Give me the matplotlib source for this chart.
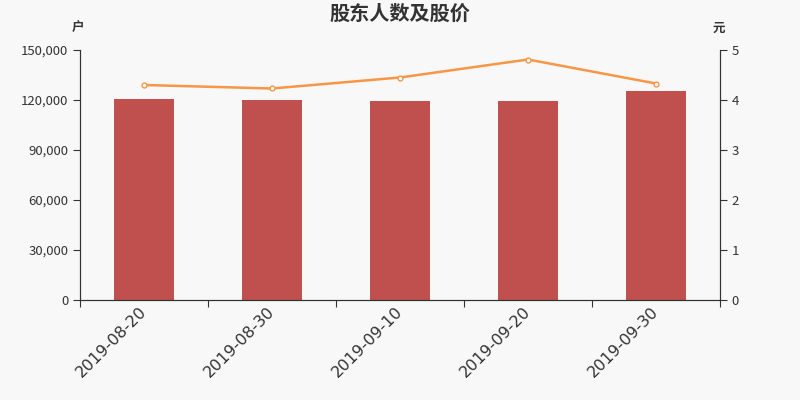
import numpy as np
import matplotlib.pyplot as plt

plt.rcParams['font.family'] = ['Noto Sans CJK SC', 'DejaVu Sans']

# 数据
datas = ["2019-08-20", "2019-08-30", "2019-09-10", "2019-09-20", "2019-09-30"]
acionistas = [120600, 120000, 119400, 119500, 125400]
precos = [4.30, 4.23, 4.45, 4.81, 4.33]

fundo = "#f8f8f8"
cor_barra = "#c0504d"
cor_linha = "#f79646"
cor_texto = "#333333"

fig = plt.figure(figsize=(8, 4), dpi=100, facecolor=fundo)
ax = fig.add_axes([0.1, 0.25, 0.8, 0.625], facecolor=fundo)

x = np.arange(len(datas))
ax.bar(x, acionistas, width=0.47, color=cor_barra, zorder=2)
ax.set_xlim(-0.5, len(datas) - 0.5)
ax.set_ylim(0, 150000)
ax.set_yticks(np.arange(0, 150001, 30000))
ax.set_yticklabels([f"{v:,}" for v in range(0, 150001, 30000)])
ax.set_xticks(np.arange(-0.5, len(datas), 1), minor=False)
ax.set_xticklabels([])
ax.set_xticks(x - 0.04, minor=True)
ax.set_xticklabels(datas, minor=True, rotation=45, ha="right", rotation_mode="anchor",
                   fontsize=11.5, color=cor_texto, family="DejaVu Sans")
ax.tick_params(axis="x", which="minor", length=0, pad=3)
ax.tick_params(axis="x", which="major", length=5, color=cor_texto)
ax.tick_params(axis="y", length=5, color=cor_texto, labelcolor=cor_texto, labelsize=9.5)

ax2 = ax.twinx()
ax2.plot(x, precos, color=cor_linha, linewidth=1.8, marker="o", markersize=3.5,
         markerfacecolor="white", markeredgecolor=cor_linha, markeredgewidth=1, zorder=3)
ax2.set_ylim(0, 5)
ax2.set_yticks(range(0, 6))
ax2.tick_params(axis="y", length=5, color=cor_texto, labelcolor=cor_texto, labelsize=9.5)

for a in (ax, ax2):
    a.spines["top"].set_visible(False)
    for s in ("left", "right", "bottom"):
        a.spines[s].set_color(cor_texto)

fig.text(0.5, 0.967, "股东人数及股价", ha="center", va="center", fontsize=14.5,
         fontweight="bold", color=cor_texto)
fig.text(0.098, 0.93, "户", ha="center", va="center", fontsize=9, fontweight="bold",
         color=cor_texto)
fig.text(0.898, 0.93, "元", ha="center", va="center", fontsize=9, fontweight="bold",
         color=cor_texto)

fig.savefig("out.png", dpi=100, facecolor=fundo)
